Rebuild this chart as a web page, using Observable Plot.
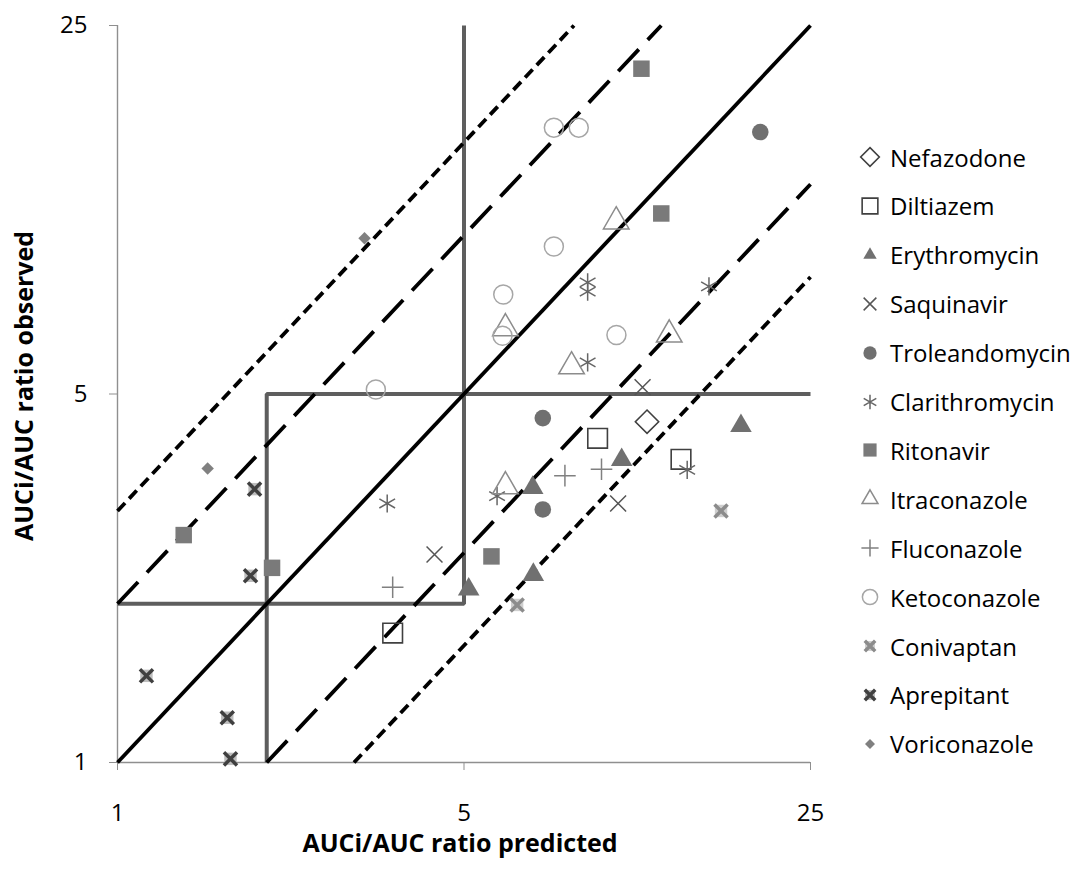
<!DOCTYPE html>
<html><head><meta charset="utf-8">
<script src="https://cdn.jsdelivr.net/npm/d3@7"></script>
<script src="https://cdn.jsdelivr.net/npm/@observablehq/plot@0.6"></script>
<style>
body{margin:0;background:#fff;font-family:'Open Sans',sans-serif;}
#wrap{position:relative;width:1086px;height:880px;overflow:hidden;}
#wrap svg g[aria-label$="tick label"] text{font-size:24px;}
.row{position:absolute;left:852px;height:36px;display:flex;align-items:center;white-space:nowrap;}
.row span{font-size:24px;color:#000;margin-left:4px;}
</style></head><body><div id="wrap"></div>
<script>
// ---- data: [predicted, observed] AUCi/AUC ratios per inhibitor ----
const nefazodone     = [[11.7, 4.43]];
const diltiazem      = [[9.3, 4.12], [13.7, 3.76], [3.59, 1.76]];
const erythromycin   = [[18.1, 4.35], [10.4, 3.75], [6.88, 3.32], [6.9, 2.27], [5.11, 2.13]];
const saquinavir     = [[11.46, 5.15], [10.23, 3.10], [4.36, 2.48]];
const troleandomycin = [[19.8, 15.7], [7.21, 4.50], [7.21, 3.02]];
const clarithromycin = [[8.88, 8.14], [8.88, 7.82], [15.6, 8.0], [8.88, 5.74], [5.83, 3.20], [14.1, 3.59], [3.50, 3.10]];
const ritonavir      = [[11.4, 20.7], [12.5, 11.0], [1.36, 2.70], [2.05, 2.34], [5.68, 2.46]];
const itraconazole   = [[10.14, 10.62], [6.06, 6.66], [12.97, 6.48], [8.24, 5.64], [6.06, 3.34]];
const fluconazole    = [[7.99, 3.50], [9.47, 3.60], [3.59, 2.15]];
const ketoconazole   = [[7.59, 16.0], [8.52, 16.0], [7.59, 9.52], [6.0, 7.72], [5.98, 6.45], [10.15, 6.47], [3.32, 5.10]];
const conivaptan     = [[16.5, 3.0], [6.40, 1.99]];
const aprepitant     = [[1.89, 3.30], [1.855, 2.26], [1.144, 1.46], [1.665, 1.216], [1.69, 1.016]];
const voriconazole   = [[3.15, 9.87], [1.52, 3.61]];

const drugNames = ["Nefazodone","Diltiazem","Erythromycin","Saquinavir","Troleandomycin","Clarithromycin",
  "Ritonavir","Itraconazole","Fluconazole","Ketoconazole","Conivaptan","Aprepitant","Voriconazole"];
const drugData = [nefazodone, diltiazem, erythromycin, saquinavir, troleandomycin, clarithromycin,
  ritonavir, itraconazole, fluconazole, ketoconazole, conivaptan, aprepitant, voriconazole];

const axisTicks = [1, 5, 25];
const axisDomain = [1, 25];
const foldRatios = {identity: [1], twoFold: [2, 0.5], threeFold: [3, 1 / 3]};
const boxLow = 2, boxHigh = 5; // limit lines

// ---- derived table ----
const rows = drugNames.flatMap((name, i) => drugData[i].map(([pred, obs]) => ({drug: name, pred, obs})));

// fold lines y = k*x clipped to the domain
function foldLine(k) {
  const [lo, hi] = axisDomain;
  const x0 = Math.max(lo, lo / k), x1 = Math.min(hi, hi / k);
  return [{x: x0, y: k * x0, k}, {x: x1, y: k * x1, k}];
}
const lineData = (ks) => ks.flatMap(foldLine);
const limitA = [{x: boxLow, y: axisDomain[0]}, {x: boxLow, y: boxHigh}, {x: axisDomain[1], y: boxHigh}];
const limitB = [{x: axisDomain[0], y: boxLow}, {x: boxHigh, y: boxLow}, {x: boxHigh, y: axisDomain[1]}];

// ---- styles ----
const styles = {
  Nefazodone:     {symbol: "diamond2", r: 10.5, fill: "none", stroke: "#404040", sw: 1.6},
  Diltiazem:      {symbol: "square2", r: 12.5, fill: "none", stroke: "#404040", sw: 1.6},
  Erythromycin:   {symbol: "triangle", r: 8, fill: "#707070", stroke: "none"},
  Saquinavir:     {symbol: "times", r: 7.3, fill: "none", stroke: "#555", sw: 1.5},
  Troleandomycin: {symbol: "circle", r: 8.3, fill: "#707070", stroke: "none"},
  Clarithromycin: {symbol: "asterisk", r: 8.6, fill: "none", stroke: "#666", sw: 1.5},
  Ritonavir:      {symbol: "square", r: 9.3, fill: "#7a7a7a", stroke: "none"},
  Itraconazole:   {symbol: "triangle", r: 9.5, fill: "none", stroke: "#8c8c8c", sw: 1.5},
  Fluconazole:    {symbol: "plus", r: 7, fill: "none", stroke: "#808080", sw: 1.5},
  Ketoconazole:   {symbol: "circle", r: 9.5, fill: "none", stroke: "#a6a6a6", sw: 1.5},
  Conivaptan:     {symbol: "times", r: 6, fill: "none", stroke: "#8c8c8c", sw: 3.5, under: "#cfcfcf"},
  Aprepitant:     {symbol: "times", r: 6, fill: "none", stroke: "#404040", sw: 3.5, under: "#bdbdbd"},
  Voriconazole:   {symbol: "diamond2", r: 5.6, fill: "#808080", stroke: "none"}
};

const dotMarks = drugNames.flatMap(name => {
  const s = styles[name];
  const data = rows.filter(d => d.drug === name);
  const out = [];
  if (s.under) out.push(Plot.dot(data, {x: "pred", y: "obs", symbol: "square", r: 7, fill: s.under, stroke: "none"}));
  out.push(Plot.dot(data, {x: "pred", y: "obs", symbol: s.symbol, r: s.r, fill: s.fill, stroke: s.stroke, strokeWidth: s.sw || 1}));
  return out;
});

const lineStyle = {x: "x", y: "y", z: "k", stroke: "black", strokeWidth: 3.8, strokeLinecap: "butt"};

const chart = Plot.plot({
  width: 1086, height: 880,
  marginLeft: 117, marginRight: 276, marginTop: 25, marginBottom: 118,
  style: {fontFamily: "'Open Sans', sans-serif", fontSize: "24px", background: "white", color: "black"},
  x: {type: "log", domain: axisDomain},
  y: {type: "log", domain: axisDomain},
  marks: [
    Plot.ruleX([axisDomain[0]], {stroke: "#8f8f8f", strokeWidth: 1.4}),
    Plot.ruleY([axisDomain[0]], {stroke: "#8f8f8f", strokeWidth: 1.4}),
    Plot.axisY({ticks: axisTicks, tickFormat: d => String(d), tickSize: 8, tickPadding: 22, fontSize: 24, stroke: "#8f8f8f", fill: "black", label: null}),
    Plot.axisX({ticks: axisTicks, tickFormat: d => String(d), tickSize: 8, tickPadding: 33, fontSize: 24, stroke: "#8f8f8f", fill: "black", label: null}),
    Plot.line(limitA, {x: "x", y: "y", stroke: "#5e5e5e", strokeWidth: 4, strokeLinejoin: "miter", strokeLinecap: "butt"}),
    Plot.line(limitB, {x: "x", y: "y", stroke: "#5e5e5e", strokeWidth: 4, strokeLinejoin: "miter", strokeLinecap: "butt"}),
    Plot.line(lineData(foldRatios.threeFold), {...lineStyle, strokeDasharray: "11,6"}),
    Plot.line(lineData(foldRatios.twoFold), {...lineStyle, strokeDasharray: "30,13"}),
    Plot.line(lineData(foldRatios.identity), lineStyle),
    ...dotMarks,
    Plot.text(["AUCi/AUC ratio observed"], {frameAnchor: "left", textAnchor: "middle", lineAnchor: "middle", rotate: -90, dx: -93, dy: -8, fontWeight: "bold", fontSize: 25}),
    Plot.text(["AUCi/AUC ratio predicted"], {frameAnchor: "bottom", textAnchor: "middle", lineAnchor: "middle", dx: -4, dy: 81, fontWeight: "bold", fontSize: 25})
  ]
});

const wrap = document.getElementById("wrap");
wrap.appendChild(chart);

// ---- legend ----
const symMap = {diamond2: d3.symbolDiamond2, square2: d3.symbolSquare2, square: d3.symbolSquare, triangle: d3.symbolTriangle2,
  times: d3.symbolTimes, circle: d3.symbolCircle, asterisk: d3.symbolAsterisk, plus: d3.symbolPlus};
const legendTop = 157, legendStep = 48.9, legendScale = 0.8;
drugNames.forEach((name, i) => {
  const s = styles[name];
  const row = document.createElement("div");
  row.className = "row";
  row.style.top = (legendTop + i * legendStep - 18) + "px";
  const svg = d3.create("svg").attr("width", 34).attr("height", 36);
  const g = svg.append("g").attr("transform", "translate(18,18)");
  if (s.under) g.append("path").attr("d", d3.symbol(d3.symbolSquare, Math.PI * (7 * legendScale) ** 2)()).attr("fill", s.under);
  g.append("path").attr("d", d3.symbol(symMap[s.symbol], Math.PI * (s.r * legendScale) ** 2)())
    .attr("fill", s.fill).attr("stroke", s.stroke).attr("stroke-width", s.sw || 1);
  row.appendChild(svg.node());
  const t = document.createElement("span");
  t.textContent = name;
  row.appendChild(t);
  wrap.appendChild(row);
});
</script></body></html>
